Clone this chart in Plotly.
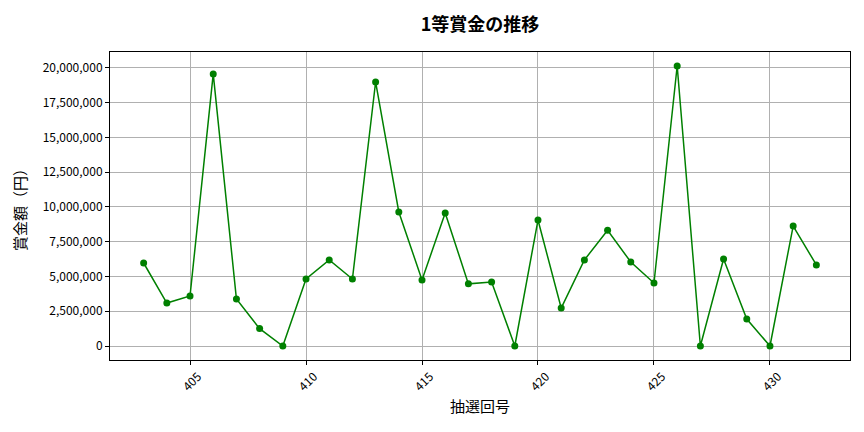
import plotly.graph_objects as go

# 1等賞金の推移
draw_numbers = list(range(403, 433))
prize_yen = [
    5970000, 3090000, 3600000, 19570000, 3380000, 1250000, 0, 4820000,
    6190000, 4820000, 18990000, 9640000, 4750000, 9570000, 4470000, 4600000,
    0, 9060000, 2730000, 6190000, 8320000, 6040000, 4530000, 20140000,
    0, 6260000, 1940000, 0, 8630000, 5830000,
]
y_ticks = [0, 2500000, 5000000, 7500000, 10000000, 12500000, 15000000,
           17500000, 20000000]

FONT = "Noto Sans CJK JP, Noto Sans, sans-serif"

# the page body adds an 8px margin, so the figure is a bit smaller than the window
W, H = 856, 424

fig = go.Figure(go.Scatter(
    x=draw_numbers,
    y=prize_yen,
    mode="lines+markers",
    line=dict(color="green", width=1.5),
    marker=dict(color="green", size=7),
    hovertemplate="%{x}: %{y:,}円<extra></extra>",
))

span_y = max(prize_yen) - min(prize_yen)
span_x = draw_numbers[-1] - draw_numbers[0]

fig.update_layout(
    width=W,
    height=H,
    margin=dict(l=102, r=14, t=44, b=72),
    paper_bgcolor="white",
    plot_bgcolor="white",
    font=dict(family=FONT, size=12, color="black"),
    title=dict(
        text="<b>1等賞金の推移</b>",
        x=0.5, xref="paper", xanchor="center",
        y=1 - 17 / H, yanchor="middle",
        font=dict(size=18),
    ),
    showlegend=False,
)

fig.update_xaxes(
    range=[draw_numbers[0] - 0.05 * span_x, draw_numbers[-1] + 0.05 * span_x],
    dtick=5,
    tick0=405,
    tickangle=-45,
    ticklabelshift=8,
    ticks="outside",
    ticklen=4,
    tickcolor="black",
    showgrid=True,
    gridcolor="#b0b0b0",
    gridwidth=0.8,
    zeroline=False,
    showline=True,
    linecolor="black",
    linewidth=1,
    mirror=True,
    title=dict(text="抽選回号", font=dict(size=15), standoff=8),
)

fig.update_yaxes(
    range=[-0.05 * span_y, max(prize_yen) + 0.05 * span_y],
    tickvals=y_ticks,
    ticktext=[f"{v:,}" for v in y_ticks],
    ticks="outside",
    ticklen=4,
    tickcolor="black",
    showgrid=True,
    gridcolor="#b0b0b0",
    gridwidth=0.8,
    zeroline=False,
    showline=True,
    linecolor="black",
    linewidth=1,
    mirror=True,
    title=dict(text="賞金額（円）", font=dict(size=15), standoff=12),
)

fig.write_html("out.html")
